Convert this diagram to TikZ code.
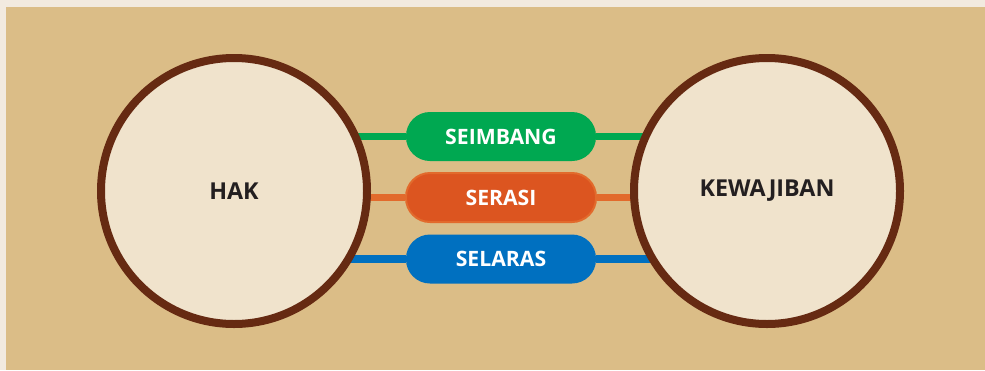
\documentclass[tikz,border=0pt]{standalone}
\usepackage{fontspec}
\setmainfont{Open Sans}
\usetikzlibrary{backgrounds}
\definecolor{paper}{HTML}{F2EADF}
\definecolor{tanbg}{HTML}{DBBD87}
\definecolor{ringbrown}{HTML}{662A12}
\definecolor{discfill}{HTML}{F0E3CC}
\definecolor{inkdark}{HTML}{231F20}
\definecolor{greenpill}{HTML}{00A851}
\definecolor{orangepill}{HTML}{DC5520}
\definecolor{orangeline}{HTML}{E26A2C}
\definecolor{bluepill}{HTML}{0070C0}
\begin{document}
\begin{tikzpicture}[x=1pt,y=-1pt,
  disc/.style={circle, draw=ringbrown, fill=discfill, line width=8pt,
    minimum size=266pt, inner sep=0pt, text=inkdark,
    font=\fontsize{23.3}{26}\selectfont\bfseries},
  pill/.style={rectangle, rounded corners=24pt, minimum width=190pt,
    minimum height=49pt, inner sep=0pt, text=white,
    font=\fontsize{21.2}{24}\selectfont\bfseries},
  link/.style={line width=7.5pt}]
  \useasboundingbox (0,0) rectangle (985,370);

  % the two concepts
  \node[disc] (hak) at (234,191) {HAK};
  \node[disc] (kew) at (767,191) {KEWAJIBAN};

  % the three qualities linking them
  \node[pill, fill=greenpill] (seimbang) at (501,136.5) {SEIMBANG};
  \node[pill, fill=orangepill, draw=orangeline, line width=2pt] (serasi) at (501,197.5) {SERASI};
  \node[pill, fill=bluepill] (selaras) at (501,259) {SELARAS};

  \begin{scope}[on background layer]
    % page and panel
    \fill[paper] (0,0) rectangle (985,370);
    \fill[tanbg] (6,7) rectangle (985,370);
    % connectors run behind the discs and pills
    \draw[link, greenpill] (seimbang.west) -- (seimbang.west -| hak.center);
    \draw[link, greenpill] (seimbang.east) -- (seimbang.east -| kew.center);
    \draw[link, orangeline] (serasi.west) -- (serasi.west -| hak.center);
    \draw[link, orangeline] (serasi.east) -- (serasi.east -| kew.center);
    \draw[link, bluepill] (selaras.west) -- (selaras.west -| hak.center);
    \draw[link, bluepill] (selaras.east) -- (selaras.east -| kew.center);
  \end{scope}
\end{tikzpicture}
\end{document}
